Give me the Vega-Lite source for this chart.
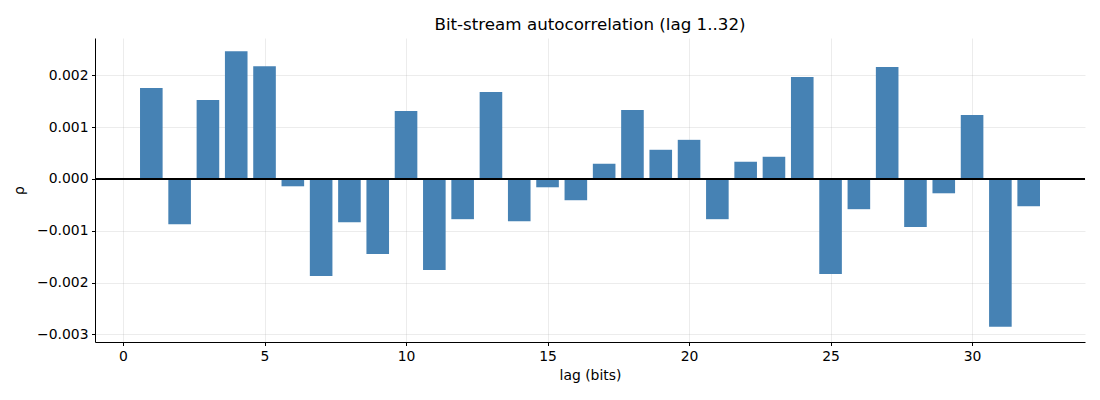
{
  "$schema": "https://vega.github.io/schema/vega-lite/v6.json",
  "autosize": {"type": "none"},
  "padding": {"left": 95, "top": 38, "right": 15, "bottom": 58},
  "width": 990,
  "height": 304,
  "config": {
    "view": {"stroke": null},
    "font": "DejaVu Sans",
    "axis": {
      "labelFont": "DejaVu Sans",
      "titleFont": "DejaVu Sans",
      "labelFontSize": 13.9,
      "titleFontSize": 13.9,
      "titleFontWeight": "normal",
      "labelColor": "#000000",
      "titleColor": "#000000",
      "domainColor": "#000000",
      "domainWidth": 1,
      "tickColor": "#000000",
      "tickSize": 3.5,
      "tickWidth": 1,
      "labelPadding": 3.5,
      "gridColor": "#b0b0b0",
      "gridOpacity": 0.3,
      "gridWidth": 0.8,
      "zindex": 1
    }
  },
  "title": {
    "text": "Bit-stream autocorrelation (lag 1..32)",
    "fontSize": 16.7,
    "fontWeight": "normal",
    "font": "DejaVu Sans",
    "color": "#000000",
    "offset": 4
  },
  "data": {
    "values": [
      {"lag": 1, "rho": 0.001756},
      {"lag": 2, "rho": -0.000872},
      {"lag": 3, "rho": 0.001526},
      {"lag": 4, "rho": 0.002468},
      {"lag": 5, "rho": 0.002179},
      {"lag": 6, "rho": -0.000141},
      {"lag": 7, "rho": -0.001872},
      {"lag": 8, "rho": -0.000833},
      {"lag": 9, "rho": -0.001449},
      {"lag": 10, "rho": 0.001314},
      {"lag": 11, "rho": -0.001756},
      {"lag": 12, "rho": -0.000776},
      {"lag": 13, "rho": 0.001679},
      {"lag": 14, "rho": -0.000814},
      {"lag": 15, "rho": -0.00016},
      {"lag": 16, "rho": -0.00041},
      {"lag": 17, "rho": 0.000295},
      {"lag": 18, "rho": 0.001333},
      {"lag": 19, "rho": 0.000564},
      {"lag": 20, "rho": 0.000756},
      {"lag": 21, "rho": -0.000776},
      {"lag": 22, "rho": 0.000333},
      {"lag": 23, "rho": 0.000429},
      {"lag": 24, "rho": 0.001968},
      {"lag": 25, "rho": -0.001833},
      {"lag": 26, "rho": -0.000583},
      {"lag": 27, "rho": 0.00216},
      {"lag": 28, "rho": -0.000929},
      {"lag": 29, "rho": -0.000276},
      {"lag": 30, "rho": 0.001237},
      {"lag": 31, "rho": -0.002853},
      {"lag": 32, "rho": -0.000526}
    ]
  },
  "layer": [
    {
      "mark": {"type": "bar", "color": "#4682b4", "width": 22.6},
      "encoding": {
        "x": {
          "field": "lag",
          "type": "quantitative",
          "scale": {"domain": [-0.99, 33.99], "nice": false, "zero": false, "padding": 0},
          "axis": {"values": [0, 5, 10, 15, 20, 25, 30], "title": "lag (bits)", "titlePadding": 6, "format": "d"}
        },
        "y": {
          "field": "rho",
          "type": "quantitative",
          "scale": {"domain": [-0.003147, 0.002722], "nice": false, "zero": false, "padding": 0},
          "axis": {"values": [-0.003, -0.002, -0.001, 0, 0.001, 0.002], "format": ".3f", "title": "ρ", "titlePadding": 10}
        }
      }
    },
    {
      "mark": {"type": "rule", "color": "#000000", "strokeWidth": 0.8},
      "encoding": {"y": {"datum": 0}}
    }
  ]
}
